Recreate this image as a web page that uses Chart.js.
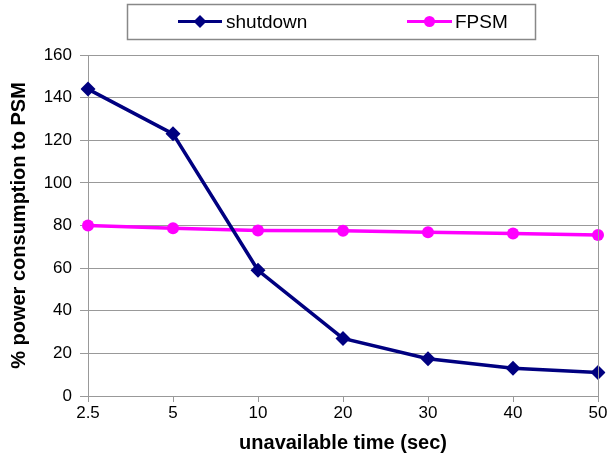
<!DOCTYPE html>
<html>
<head>
<meta charset="utf-8">
<script src="https://cdn.jsdelivr.net/npm/chart.js@4.4.0/dist/chart.umd.min.js"></script>
<style>
html,body{margin:0;padding:0;background:#fff;}
#wrap{width:609px;height:464px;position:relative;}
</style>
</head>
<body>
<div id="wrap"><canvas id="c" width="609" height="464"></canvas></div>
<script>
const categories = ['2.5', '5', '10', '20', '30', '40', '50'];
const shutdown = [144, 123, 59, 27, 17.5, 13, 11];
const fpsm = [80, 78.7, 77.7, 77.5, 76.8, 76.2, 75.5];
const yTicks = [0, 20, 40, 60, 80, 100, 120, 140, 160];
const seriesNames = ['shutdown', 'FPSM'];
const xTitle = 'unavailable time (sec)';
const yTitle = '% power consumption to PSM';

const FONT = "'Liberation Sans', Arial, sans-serif";

const legendPlugin = {
  id: 'boxLegend',
  afterDraw(chart) {
    const ctx = chart.ctx;
    ctx.save();
    ctx.strokeStyle = '#888888';
    ctx.lineWidth = 1.5;
    ctx.strokeRect(127.5, 4.5, 408, 35);
    const items = [{x0: 178, x1: 222, tx: 226}, {x0: 407, x1: 452, tx: 455}];
    const cy = 21.5;
    chart.data.datasets.forEach((ds, i) => {
      const it = items[i];
      ctx.strokeStyle = ds.borderColor;
      ctx.lineWidth = 3;
      ctx.beginPath();
      ctx.moveTo(it.x0, cy);
      ctx.lineTo(it.x1, cy);
      ctx.stroke();
      ctx.fillStyle = ds.pointBackgroundColor;
      const mx = (it.x0 + it.x1) / 2;
      ctx.beginPath();
      if (ds.pointStyle === 'rectRot') {
        const r = 6.5;
        ctx.moveTo(mx, cy - r); ctx.lineTo(mx + r, cy); ctx.lineTo(mx, cy + r); ctx.lineTo(mx - r, cy);
        ctx.closePath();
      } else {
        ctx.arc(mx, cy, 5.5, 0, Math.PI * 2);
      }
      ctx.fill();
      ctx.fillStyle = '#000';
      ctx.font = "19px " + FONT;
      ctx.textBaseline = 'middle';
      ctx.textAlign = 'left';
      ctx.fillText(ds.label, it.tx, cy + 1);
    });
    const a = chart.chartArea;
    ctx.strokeStyle = '#999999';
    ctx.lineWidth = 1;
    ctx.beginPath();
    ctx.moveTo(Math.round(a.right) + 0.5, a.top);
    ctx.lineTo(Math.round(a.right) + 0.5, a.bottom);
    ctx.stroke();
    ctx.restore();
  }
};

new Chart(document.getElementById('c'), {
  type: 'line',
  data: {
    labels: categories,
    datasets: [
      {
        label: seriesNames[0], data: shutdown,
        borderColor: '#000080', backgroundColor: '#000080', pointBackgroundColor: '#000080',
        pointBorderColor: '#000080', borderWidth: 3.5, pointStyle: 'rectRot', pointRadius: 7.5,
        pointBorderWidth: 0, tension: 0
      },
      {
        label: seriesNames[1], data: fpsm,
        borderColor: '#FF00FF', backgroundColor: '#FF00FF', pointBackgroundColor: '#FF00FF',
        pointBorderColor: '#FF00FF', borderWidth: 3.5, pointStyle: 'circle', pointRadius: 6,
        pointBorderWidth: 0, tension: 0
      }
    ]
  },
  options: {
    responsive: false,
    animation: false,
    events: [],
    layout: { padding: { top: 55, right: 11, left: 0, bottom: 0 } },
    plugins: { legend: { display: false }, tooltip: { enabled: false } },
    scales: {
      x: {
        type: 'category',
        offset: false,
        grid: { drawOnChartArea: false, drawTicks: true, tickLength: 6, color: '#999999', lineWidth: 1 },
        border: { display: true, color: '#999999', width: 1 },
        ticks: { color: '#000', font: { family: FONT, size: 17 }, padding: 1, maxRotation: 0, autoSkip: false },
        title: { display: true, text: xTitle, color: '#000', font: { family: FONT, size: 20, weight: 'bold' }, padding: { top: 0, bottom: 9 } },
        afterFit(scale) { scale.height = 68; }
      },
      y: {
        min: 0, max: 160,
        afterBuildTicks(scale) { scale.ticks = yTicks.map(v => ({ value: v })); },
        grid: { color: '#999999', lineWidth: 1, tickLength: 8, drawTicks: true },
        border: { display: true, color: '#999999', width: 1 },
        ticks: { color: '#000', font: { family: FONT, size: 17 }, padding: 8 },
        title: { display: true, text: yTitle, color: '#000', font: { family: FONT, size: 20, weight: 'bold' }, padding: { top: 7, bottom: 0 } },
        afterFit(scale) { scale.width = 88; }
      }
    }
  },
  plugins: [legendPlugin]
});
</script>
</body>
</html>
